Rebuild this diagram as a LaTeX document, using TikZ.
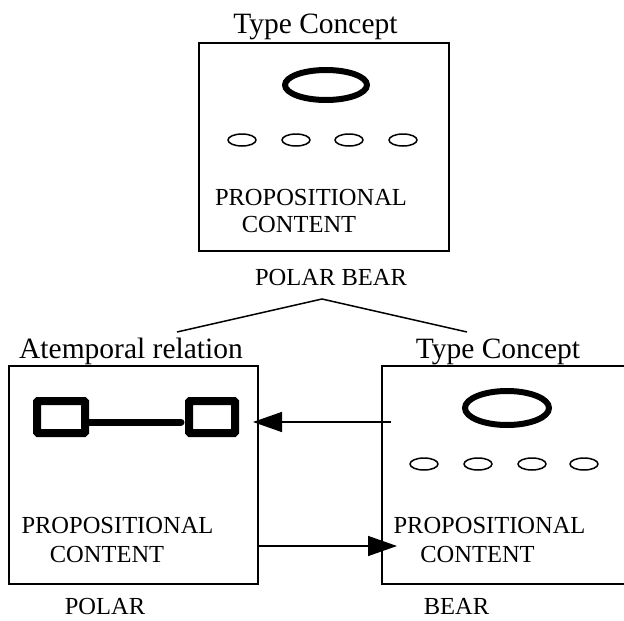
\documentclass[tikz,border=0pt]{standalone}
\usepackage{fontspec}
\setmainfont{Liberation Serif}
\usetikzlibrary{arrows.meta}
\begin{document}
\begin{tikzpicture}[x=1pt,y=-1pt,
  box/.style={draw,line width=1.6pt,minimum width=#1,minimum height=218pt,inner sep=0pt},
  title/.style={anchor=base,inner sep=0pt,font=\fontsize{29.5}{32}\selectfont},
  body/.style={anchor=base,inner sep=0pt,font=\fontsize{24.5}{27}\selectfont},
  bigell/.style={draw,line width=6pt},
  smallell/.style={draw,line width=1.5pt},
  slot/.style={draw,line width=8pt,rounded corners=1pt},
  conn/.style={line width=1.5pt},
  arr/.style={line width=1.5pt,-{Triangle[length=29pt,width=20pt]}}]
\useasboundingbox (0,0) rectangle (624,621);
\clip (0,0) rectangle (624,621);
% boxes
\node[box=250pt,minimum height=208pt] (tbox) at (324,147) {};
\node[box=249pt] (lbox) at (133.5,475) {};
\node[box=249pt] (rbox) at (506.5,475) {};
% top box contents
\node[title] (ttitle) at (315.5,33) {Type Concept};
\draw[bigell] (326,85) ellipse [x radius=41pt,y radius=15pt];
\foreach \x in {242,296,349,403} \draw[smallell] (\x,140) ellipse [x radius=14pt,y radius=6pt];
\node[body] (tprop) at (311,205) {PROPOSITIONAL};
\node[body] (tcont) at (299,232) {CONTENT};
\node[body] (tname) at (331,285) {POLAR BEAR};
% left box contents
\node[title] (ltitle) at (131,358) {Atemporal relation};
\draw[slot] (37,401) rectangle (85,433);
\draw[slot] (189,401) rectangle (235,433);
\draw[line width=7pt,line cap=round] (85,422) -- (181,422);
\node[body] (lprop) at (117.5,533) {PROPOSITIONAL};
\node[body] (lcont) at (107,562) {CONTENT};
\node[body] (lname) at (105,614) {POLAR};
% right box contents
\node[title] (rtitle) at (498,358) {Type Concept};
\draw[bigell] (507,408) ellipse [x radius=42pt,y radius=17pt];
\foreach \x in {424,478,532,584} \draw[smallell] (\x,464) ellipse [x radius=14pt,y radius=6pt];
\node[body] (rprop) at (489.5,533) {PROPOSITIONAL};
\node[body] (rcont) at (477.5,562) {CONTENT};
\node[body] (rname) at (456.5,614) {BEAR};
% connectors
\coordinate (apex) at (322,299);
\coordinate (lend) at (177,332);
\coordinate (rend) at (467,332);
\draw[conn] (lend) -- (apex) -- (rend);
\coordinate (a1s) at (391,422);
\coordinate (a1e) at (253,422);
\draw[arr] (a1s) -- (a1e);
\coordinate (a2e) at (397,546);
\draw[arr] (lbox.east |- a2e) -- (a2e);
\end{tikzpicture}
\end{document}
